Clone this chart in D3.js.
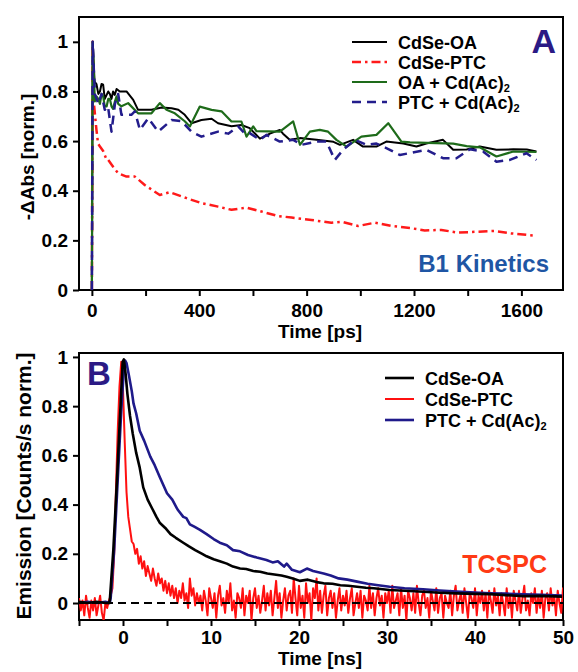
<!DOCTYPE html>
<html>
<head>
<meta charset="utf-8">
<script src="https://cdn.jsdelivr.net/npm/d3@7"></script>
<style>
  body { margin: 0; background: #fff; }
  text { font-family: "Liberation Sans", Arial, sans-serif; font-weight: bold; }
</style>
</head>
<body>
<script>
// ---- panel A data: B1 bleach kinetics (time in ps) ----
var oaTime   = [0,3,10,17,24,30,36,42,48,55,61,67,73,79,85,92,104,129,154,172,222,260,297,322,346,371,408,446,470,520,557,588,626,663,700,712,737,775,837,900,924,973,1010,1060,1097,1160,1209,1246,1308,1346,1396,1445,1507,1570,1620,1656];
var oaVal    = [0,1,0.84,0.83,0.79,0.80,0.83,0.827,0.77,0.786,0.80,0.79,0.77,0.80,0.786,0.81,0.80,0.80,0.766,0.726,0.726,0.735,0.732,0.726,0.706,0.672,0.685,0.69,0.672,0.66,0.665,0.652,0.61,0.63,0.645,0.63,0.605,0.612,0.605,0.597,0.585,0.605,0.578,0.578,0.598,0.59,0.578,0.59,0.605,0.565,0.566,0.578,0.565,0.567,0.566,0.558];

var ptcTime  = [0,3,5,17,23,30,42,55,61,79,98,129,160,197,253,290,353,408,470,520,576,632,694,744,818,892,930,992,1054,1116,1190,1240,1302,1364,1438,1500,1562,1650];
var ptcVal   = [0,1,0.78,0.645,0.59,0.578,0.56,0.524,0.524,0.497,0.47,0.457,0.457,0.423,0.383,0.394,0.37,0.35,0.336,0.323,0.332,0.316,0.298,0.292,0.282,0.271,0.275,0.258,0.271,0.258,0.249,0.24,0.242,0.231,0.235,0.238,0.228,0.219];

var oaCdTime = [0,3,11,17,24,30,36,42,48,55,61,67,73,79,86,92,98,110,135,172,222,253,278,309,346,365,402,446,483,520,557,576,601,613,700,750,775,812,849,880,911,949,1004,1060,1104,1153,1185,1346,1396,1445,1507,1570,1656];
var oaCdVal  = [0,1,0.76,0.78,0.77,0.75,0.79,0.78,0.74,0.74,0.77,0.77,0.74,0.73,0.76,0.78,0.75,0.74,0.753,0.712,0.712,0.753,0.726,0.712,0.68,0.659,0.739,0.726,0.72,0.679,0.679,0.618,0.659,0.64,0.638,0.679,0.585,0.638,0.645,0.638,0.605,0.578,0.618,0.625,0.672,0.598,0.595,0.59,0.58,0.575,0.538,0.558,0.556];

var ptcCdTime = [0,3,11,24,36,48,60,73,86,98,110,147,160,179,210,247,297,334,371,408,470,508,545,570,588,626,650,700,750,781,837,874,905,936,980,1023,1060,1110,1147,1200,1246,1308,1358,1408,1457,1507,1557,1619,1656];
var ptcCdVal  = [0,1,0.79,0.75,0.79,0.726,0.74,0.638,0.75,0.79,0.706,0.706,0.72,0.645,0.692,0.638,0.685,0.68,0.638,0.618,0.638,0.63,0.659,0.63,0.632,0.605,0.625,0.598,0.605,0.585,0.598,0.598,0.524,0.565,0.605,0.585,0.59,0.565,0.544,0.555,0.565,0.531,0.531,0.567,0.558,0.517,0.524,0.551,0.524];

var ticksA_x = [0,200,400,600,800,1000,1200,1400,1600];
var ticksY   = [0,0.2,0.4,0.6,0.8,1];

// ---- panel B data: TCSPC emission (time in ns) ----
var tcOaTime = [-5,-4,-3,-2,-1.6,-1.5,-1.1,-0.7,-0.34,-0.04,0.1,0.3,0.5,0.8,1.1,1.5,1.9,2.3,2.8,3.3,3.8,4.2,4.8,5.4,6.0,6.85,7.5,8.2,9.0,9.5,10.3,11,11.8,12.5,13.3,14,14.8,15.6,16.4,17.2,18,18.6,19.3,20.1,21,22,22.8,23.8,24.7,25.6,26.6,27.6,28.5,30.3,32,34.1,36,37.9,40,41.7,43.5,45.5,47.5,49.9];
var tcOaVal  = [0.005,0,0.005,0,0,0.01,0.215,0.49,0.76,0.98,0.99,0.93,0.85,0.76,0.69,0.61,0.55,0.47,0.42,0.385,0.35,0.325,0.305,0.28,0.265,0.245,0.23,0.215,0.2,0.19,0.178,0.17,0.16,0.148,0.14,0.138,0.13,0.127,0.12,0.116,0.112,0.107,0.1,0.09,0.095,0.085,0.08,0.078,0.072,0.07,0.066,0.062,0.06,0.053,0.05,0.046,0.042,0.039,0.037,0.036,0.032,0.028,0.029,0.026];

var tcPtcCdTime = [-5,-4,-3,-2,-1.5,-1.4,-1.0,-0.6,-0.2,0.1,0.25,0.4,0.7,1.0,1.2,1.5,1.9,2.4,3.1,3.6,4.2,5.0,5.6,6.2,6.85,7.2,7.6,8.1,8.75,9.5,10.3,11,11.8,12.5,13.3,14.2,15.2,16.3,17,17.6,18.3,18.6,19.2,20.1,20.9,21.6,22.8,23.6,24.5,25.5,26.6,27.8,29,30.3,32,34.1,36,37.9,40,41.7,43.5,45.5,47.5,49.9];
var tcPtcCdVal  = [0,0.005,0,0.005,0,0.02,0.22,0.5,0.78,0.95,0.985,0.975,0.92,0.86,0.81,0.77,0.70,0.66,0.595,0.56,0.51,0.446,0.42,0.38,0.35,0.345,0.32,0.31,0.297,0.28,0.26,0.245,0.235,0.215,0.21,0.195,0.185,0.175,0.165,0.17,0.148,0.16,0.135,0.125,0.14,0.13,0.12,0.112,0.1,0.095,0.087,0.078,0.072,0.066,0.06,0.056,0.051,0.047,0.043,0.04,0.038,0.035,0.033,0.03];

// red trace is sampled every 0.2 ns from -5 ns
var tcPtcStart = -5, tcPtcStep = 0.2;
var tcPtcVal = [
  0.02,-0.03,0.01,-0.05,0.03,-0.02,-0.06,0.01,-0.03,0.02,-0.05,-0.01,0.03,-0.04,-0.07,0.0,-0.02,0.01,
  0.03,0.06,0.2,0.46,0.7,0.88,0.98,0.87,0.65,0.45,0.35,0.3,
  0.25,0.24,0.2,0.22,0.16,0.19,0.14,0.17,0.11,0.15,0.12,0.09,0.14,0.1,0.07,0.12,0.08,0.1,0.05,0.09,
  0.04,0.08,0.03,0.07,0.02,0.06,0.0,0.05,0.02,0.08,0.01,0.04,-0.02,0.1,0.03,0.06,-0.01,0.04,0.0,0.03,
  -0.03,0.05,0.01,-0.05,0.06,0.02,-0.02,0.04,-0.06,0.03,
  0.07,-0.01,0.02,-0.04,0.05,0.0,0.08,-0.03,0.01,-0.06,
  0.04,0.02,-0.02,0.06,-0.05,0.03,0.0,0.05,-0.07,0.02,
  0.06,-0.02,0.03,-0.04,0.01,0.07,-0.03,0.04,-0.01,0.05,
  -0.05,0.02,0.09,-0.02,0.04,-0.06,0.01,0.06,-0.03,0.03,
  0.05,-0.04,0.1,0.02,-0.05,0.07,-0.02,0.03,-0.06,0.08,
  0.0,0.04,-0.07,0.06,0.02,0.1,-0.03,0.05,-0.04,0.03,
  0.07,-0.05,0.02,0.05,-0.02,0.04,-0.06,0.01,0.06,-0.03,
  0.03,-0.01,0.05,-0.04,0.02,0.06,-0.05,0.0,0.04,-0.02,
  0.05,-0.06,0.03,0.01,-0.03,0.07,-0.02,0.04,-0.05,0.02,
  0.06,-0.01,0.03,-0.06,0.04,0.0,0.05,-0.04,0.07,-0.02,
  0.01,0.04,-0.05,0.06,-0.02,0.03,-0.07,0.05,0.02,-0.03,
  0.04,-0.04,0.07,0.0,-0.05,0.03,0.05,-0.02,0.02,-0.06,
  0.05,0.01,-0.03,0.06,-0.04,0.02,0.04,-0.06,0.03,0.0,
  -0.02,0.05,-0.05,0.03,0.07,-0.03,0.01,0.04,-0.04,0.06,
  0.0,-0.06,0.04,0.02,-0.02,0.06,-0.05,0.03,0.0,0.05,
  -0.03,0.04,-0.06,0.05,0.01,-0.04,0.06,-0.01,0.03,-0.05,
  0.04,0.0,-0.05,0.06,-0.02,0.03,-0.06,0.05,0.01,-0.03,
  0.05,-0.04,0.02,0.07,-0.03,0.01,-0.05,0.04,0.0,0.06,
  -0.04,0.03,-0.02,0.05,-0.06,0.02,0.04,-0.03,0.06,-0.01,
  0.03,-0.05,0.05,0.0,-0.04,0.06,0.02,-0.03,0.04,0.07
];
var ticksB_x = [-5,0,5,10,15,20,25,30,35,40,45,50];

var W = 578, H = 672;
var svg = d3.select("body").append("svg").attr("width", W).attr("height", H);

function fmtY(d) { return (d === 0 || d === 1) ? String(d) : d.toFixed(1); }

// draws box, ticks, labels for one panel, returns a clipped group
function makePanel(id, x, y, opt) {
    var x0 = x.range()[0], x1 = x.range()[1], y0 = y.range()[0], y1 = y.range()[1];

    svg.append("clipPath").attr("id", id)
      .append("rect").attr("x", x0).attr("y", y1).attr("width", x1 - x0).attr("height", y0 - y1);

    var xa = svg.append("g")
        .attr("transform", "translate(0," + y0 + ")")
        .call(d3.axisBottom(x).tickValues(opt.xTicks).tickSize(6).tickPadding(opt.xPad)
              .tickFormat(function(d) { return opt.labelled(d) ? d : ""; }));
    var ya = svg.append("g")
        .attr("transform", "translate(" + x0 + ",0)")
        .call(d3.axisLeft(y).tickValues(ticksY).tickSize(6).tickPadding(5).tickFormat(fmtY));
    [xa, ya].forEach(function(a) {
        a.select(".domain").remove();
        a.selectAll("line").attr("stroke", "#000").attr("stroke-width", 2);
        a.selectAll("text").attr("fill", "#000").style("font-size", "19px")
         .style("font-family", "'Liberation Sans', Arial, sans-serif").style("font-weight", "bold");
    });

    svg.append("rect").attr("x", x0).attr("y", y1).attr("width", x1 - x0).attr("height", y0 - y1)
        .attr("fill", "none").attr("stroke", "#000").attr("stroke-width", 2);

    svg.append("text").attr("x", 320).attr("y", y0 + opt.xTitleDy)
        .attr("text-anchor", "middle").style("font-size", "19px").text(opt.xTitle);
    svg.append("text").attr("transform", "translate(" + opt.yTitleX + "," + opt.yTitleY + ") rotate(-90)")
        .attr("text-anchor", "middle").style("font-size", opt.yTitleSize + "px").text(opt.yTitle);

    return svg.append("g").attr("clip-path", "url(#" + id + ")");
}

// ---------- panel A ----------
var xA = d3.scaleLinear().domain([-48, 1755]).range([79, 563]);
var yA = d3.scaleLinear().domain([0, 1.1]).range([290, 17]);
var gA = makePanel("clipA", xA, yA, {
    xTicks: ticksA_x, labelled: function(d) { return d % 400 === 0; }, xPad: 8,
    xTitle: "Time [ps]", xTitleDy: 48,
    yTitle: "-\u0394Abs [norm.]", yTitleX: 34, yTitleY: 157, yTitleSize: 19
});

var lineA = d3.line().x(function(d) { return xA(d[0]); }).y(function(d) { return yA(d[1]); });
var seriesA = [
    { t: oaTime,    v: oaVal,    color: "#000000", dash: null,        w: 2,   name: "CdSe-OA" },
    { t: ptcTime,   v: ptcVal,   color: "#ff1a1a", dash: "9,4,2.5,4", w: 2.5, name: "CdSe-PTC" },
    { t: oaCdTime,  v: oaCdVal,  color: "#1e6b1a", dash: null,        w: 2.2, name: "OA + Cd(Ac)", sub: "2" },
    { t: ptcCdTime, v: ptcCdVal, color: "#231d8c", dash: "9,6",       w: 2.5, name: "PTC + Cd(Ac)", sub: "2" }
];
seriesA.forEach(function(s) {
    gA.append("path")
        .datum(d3.zip(s.t, s.v))
        .attr("d", lineA)
        .attr("fill", "none")
        .attr("stroke", s.color)
        .attr("stroke-width", s.w)
        .attr("stroke-dasharray", s.dash)
        .attr("stroke-linejoin", "round");
});

function legend(items, lx, ly, dy, len, fontSize) {
    items.forEach(function(s, i) {
        var yy = ly + i * dy;
        svg.append("line").attr("x1", lx).attr("x2", lx + len).attr("y1", yy).attr("y2", yy)
            .attr("stroke", s.color).attr("stroke-width", s.w)
            .attr("stroke-dasharray", s.dash);
        var t = svg.append("text").attr("x", lx + len + 11).attr("y", yy + 6.5)
            .style("font-size", fontSize + "px").text(s.name);
        if (s.sub) t.append("tspan").attr("dy", 3).style("font-size", "11px").text(s.sub);
    });
}
legend(seriesA, 352, 42, 20, 35, 18);

svg.append("text").attr("x", 556).attr("y", 53).attr("text-anchor", "end")
    .style("font-size", "34px").attr("fill", "#2b1a85").text("A");
svg.append("text").attr("x", 549).attr("y", 272).attr("text-anchor", "end")
    .style("font-size", "24px").attr("fill", "#1f56a4").text("B1 Kinetics");

// ---------- panel B ----------
var xB = d3.scaleLinear().domain([-5, 50]).range([79, 563]);
var yB = d3.scaleLinear().domain([-0.069, 1.016]).range([620, 353]);
var gB = makePanel("clipB", xB, yB, {
    xTicks: ticksB_x, labelled: function(d) { return d % 10 === 0; }, xPad: 5,
    xTitle: "Time [ns]", xTitleDy: 45,
    yTitle: "Emission [Counts/s norm.]", yTitleX: 31, yTitleY: 486, yTitleSize: 21
});

var lineB = d3.line().x(function(d) { return xB(d[0]); }).y(function(d) { return yB(d[1]); });
var redTimes = tcPtcVal.map(function(v, i) { return tcPtcStart + i * tcPtcStep; });

var seriesB = [
    { t: redTimes,    v: tcPtcVal,   color: "#ff1010", w: 2,   name: "CdSe-PTC" },
    { t: tcPtcCdTime, v: tcPtcCdVal, color: "#1f1a8a", w: 2.6, name: "PTC + Cd(Ac)", sub: "2" },
    { t: tcOaTime,    v: tcOaVal,    color: "#000000", w: 2.6, name: "CdSe-OA" }
];
seriesB.forEach(function(s) {
    gB.append("path")
        .datum(d3.zip(s.t, s.v))
        .attr("d", lineB)
        .attr("fill", "none")
        .attr("stroke", s.color)
        .attr("stroke-width", s.w)
        .attr("stroke-linejoin", "round");
});

// zero line
gB.append("line").attr("x1", xB(-5)).attr("x2", xB(50)).attr("y1", yB(0)).attr("y2", yB(0))
    .attr("stroke", "#000").attr("stroke-width", 2).attr("stroke-dasharray", "8,5");

legend([seriesB[2], seriesB[0], seriesB[1]], 385, 378, 21, 29, 18);

svg.append("text").attr("x", 87).attr("y", 385)
    .style("font-size", "33px").attr("fill", "#2b1a85").text("B");
svg.append("text").attr("x", 547).attr("y", 573).attr("text-anchor", "end")
    .style("font-size", "25px").attr("fill", "#ff3a14").text("TCSPC");
</script>
</body>
</html>
